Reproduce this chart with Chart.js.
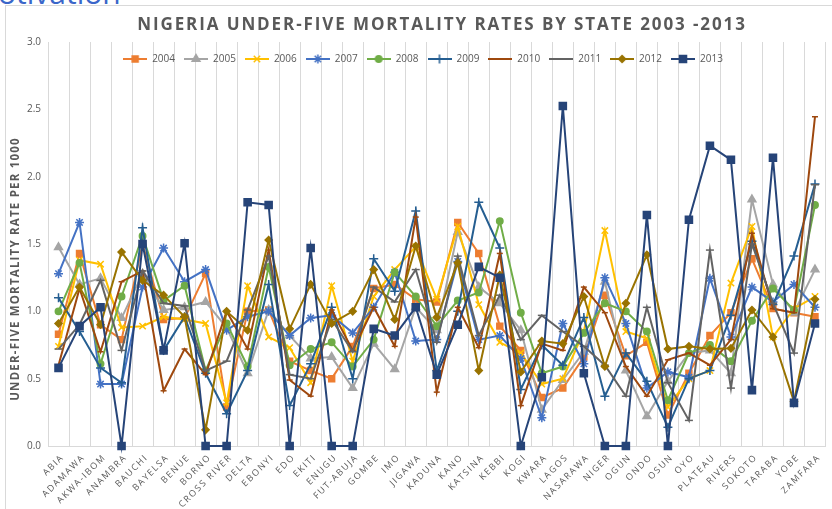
<!DOCTYPE html>
<html>
<head>
<meta charset="utf-8">
<script src="https://cdn.jsdelivr.net/npm/chart.js@4.4.1/dist/chart.umd.min.js"></script>
<style>
  html, body { margin: 0; padding: 0; background: #fff; overflow: hidden; }
  #slideTitle {
    position: absolute; left: -29px; top: -22px;
    font: 30px/30px 'Open Sans', sans-serif; color: #3a66c9; white-space: nowrap;
  }
  #frame {
    position: absolute; left: 5px; top: 5px; width: 840px; height: 520px;
    border: 1px solid #d9d9d9;
  }
  #wrap { position: absolute; left: 0; top: 0; width: 832px; height: 509px; }
</style>
</head>
<body>
<div id="slideTitle">Motivation</div>
<div id="frame"></div>
<div id="wrap"><canvas id="chart" width="832" height="509"></canvas></div>
<script>
// data
const states = ['ABIA', 'ADAMAWA', 'AKWA-IBOM', 'ANAMBRA', 'BAUCHI', 'BAYELSA', 'BENUE', 'BORNO',
  'CROSS RIVER', 'DELTA', 'EBONYI', 'EDO', 'EKITI', 'ENUGU', 'FUT-ABUJA', 'GOMBE', 'IMO', 'JIGAWA',
  'KADUNA', 'KANO', 'KATSINA', 'KEBBI', 'KOGI', 'KWARA', 'LAGOS', 'NASARAWA', 'NIGER', 'OGUN',
  'ONDO', 'OSUN', 'OYO', 'PLATEAU', 'RIVERS', 'SOKOTO', 'TARABA', 'YOBE', 'ZAMFARA'];

const years = ['2004', '2005', '2006', '2007', '2008', '2009', '2010', '2011', '2012', '2013'];

const r2004 = [0.83,1.43,0.90,0.79,1.50,0.94,0.95,1.28,0.29,1.00,1.01,0.63,0.56,0.50,0.74,1.17,1.20,1.09,1.07,1.66,1.43,0.89,0.71,0.36,0.43,0.66,1.12,0.67,0.77,0.23,0.54,0.82,0.99,1.39,1.02,0.99,0.96];
const r2005 = [1.475,1.20,1.245,0.95,1.28,1.01,1.03,1.07,0.88,0.54,1.01,0.82,0.65,0.66,0.43,0.76,0.57,1.03,0.86,1.59,1.18,1.06,0.86,0.27,0.49,0.70,1.22,0.56,0.22,0.48,0.69,0.71,0.54,1.83,1.20,0.99,1.31];
const r2006 = [0.74,1.38,1.35,0.88,0.89,0.96,0.94,0.91,0.32,1.19,0.81,0.73,0.47,1.19,0.63,1.11,1.31,1.48,1.09,1.63,1.05,0.77,0.69,0.46,0.50,0.85,1.60,0.85,0.80,0.29,0.50,0.56,1.21,1.63,0.81,1.02,1.11];
const r2007 = [1.28,1.66,0.46,0.46,1.18,1.47,1.22,1.31,0.86,0.96,1.00,0.82,0.95,0.97,0.84,1.03,1.29,0.78,0.79,1.37,0.79,0.82,0.65,0.21,0.91,0.61,1.25,0.91,0.43,0.55,0.51,1.245,0.81,1.18,1.07,1.20,1.03];
const r2008 = [1.00,1.36,0.61,1.11,1.56,1.08,1.19,0.56,0.91,0.59,1.33,0.60,0.72,0.77,0.59,0.79,1.29,1.11,0.89,1.08,1.14,1.67,0.99,0.54,0.59,0.84,1.06,1.00,0.85,0.34,0.69,0.75,0.63,0.93,1.17,1.01,1.79];
const r2009 = [1.10,0.85,0.58,0.47,1.62,0.71,0.96,0.54,0.24,0.56,1.20,0.30,0.61,1.03,0.50,1.39,1.15,1.745,0.56,1.00,1.81,1.47,0.42,0.75,0.60,0.955,0.37,0.69,0.48,0.14,0.50,0.56,0.97,1.52,1.05,1.41,1.945];
const r2010 = [0.60,1.17,0.70,1.22,1.30,0.41,0.72,0.53,1.00,0.72,1.455,0.49,0.37,1.01,0.71,1.03,0.74,1.70,0.40,1.03,0.73,1.43,0.30,0.76,0.71,1.18,0.99,0.59,0.37,0.64,0.69,0.60,0.79,1.58,1.02,0.99,2.445];
const r2011 = [0.72,0.90,1.23,0.71,1.30,1.06,1.04,0.56,0.63,1.01,1.41,0.53,0.50,0.94,0.70,1.18,1.07,1.31,0.77,1.41,0.82,1.12,0.79,0.97,0.85,0.74,0.60,0.37,1.03,0.47,0.19,1.455,0.43,1.50,1.06,0.69,1.94];
const r2012 = [0.91,1.18,0.90,1.44,1.23,1.12,0.96,0.12,1.00,0.86,1.53,0.87,1.20,0.91,1.00,1.31,0.94,1.485,0.955,1.36,0.56,1.27,0.55,0.78,0.76,1.11,0.59,1.06,1.42,0.72,0.74,0.72,0.725,1.01,0.81,0.33,1.09];
const r2013 = [0.58,0.89,1.03,0,1.50,0.71,1.505,0,0,1.81,1.79,0,1.47,0,0,0.87,0.82,1.03,0.53,0.90,1.33,1.25,0,0.51,2.525,0.54,0,0,1.715,0,1.68,2.23,2.125,0.415,2.14,0.32,0.91];

const series = [r2004, r2005, r2006, r2007, r2008, r2009, r2010, r2011, r2012, r2013];

const colors  = ['#ed7d31', '#a5a5a5', '#ffc000', '#4472c4', '#70ad47', '#255e91', '#9e480e', '#636363', '#997300', '#264478'];
const markers = ['rect', 'triangle', 'crossRot', 'star', 'circle', 'cross', 'line', 'line', 'rectRot', 'rect'];
const radii   = [4.2, 4.5, 4.5, 4.5, 3.2, 4.5, 3, 4, 3.5, 5];

const TEXT = '#595959';
const FONT = "'Open Sans', sans-serif";

// small line+marker swatch for the legend
function swatch(i) {
  const c = document.createElement('canvas');
  c.width = 24; c.height = 12;
  const ctx = c.getContext('2d');
  ctx.strokeStyle = colors[i];
  ctx.lineWidth = 2;
  ctx.beginPath(); ctx.moveTo(0, 6); ctx.lineTo(24, 6); ctx.stroke();
  ctx.fillStyle = colors[i];
  ctx.lineWidth = 1.5;
  Chart.helpers.drawPoint(ctx, { pointStyle: markers[i], radius: radii[i], rotation: 0, borderWidth: 1.5 }, 12, 6);
  return c;
}

const datasets = years.map((y, i) => ({
  label: y,
  data: series[i],
  borderColor: colors[i],
  backgroundColor: colors[i],
  borderWidth: 2,
  pointStyle: markers[i],
  pointRadius: radii[i],
  pointBorderWidth: 1.5,
  pointBackgroundColor: colors[i],
  pointBorderColor: colors[i],
  tension: 0,
  clip: false,
  order: years.length - i,
}));

// legend sits inside the plot, like the spreadsheet chart
const legendMover = {
  id: 'legendMover',
  afterLayout(chart) {
    const lg = chart.legend;
    const h = lg.bottom - lg.top;
    lg.top = 45; lg.bottom = 45 + h;
    lg.left += 1; lg.right += 1;
  },
};

const textPlugin = {
  id: 'texts',
  afterDraw(chart) {
    const ctx = chart.ctx;
    const area = chart.chartArea;
    ctx.save();
    ctx.fillStyle = TEXT;

    // chart title
    ctx.font = 'bold 17px ' + FONT;
    ctx.letterSpacing = '1.9px';
    ctx.textAlign = 'center';
    ctx.textBaseline = 'middle';
    ctx.fillText('NIGERIA UNDER-FIVE MORTALITY RATES BY STATE 2003 -2013', 442, 25);

    // y axis title
    ctx.save();
    ctx.translate(16, 269);
    ctx.rotate(-Math.PI / 2);
    ctx.font = 'bold 11.5px ' + FONT;
    ctx.letterSpacing = '1.2px';
    ctx.fillText('UNDER-FIVE MORTALITY RATE PER 1000', 0, 0);
    ctx.restore();

    // category labels, rotated 45 degrees
    const xs = chart.scales.x;
    ctx.font = '9px ' + FONT;
    ctx.letterSpacing = '1.5px';
    ctx.textAlign = 'right';
    ctx.textBaseline = 'middle';
    states.forEach((s, i) => {
      const px = xs.getPixelForTick(i);
      ctx.save();
      ctx.translate(px + 4, area.bottom + 10);
      ctx.rotate(-Math.PI / 4);
      ctx.fillText(s, 0, 0);
      ctx.restore();
    });
    ctx.restore();
  },
};

new Chart(document.getElementById('chart'), {
  type: 'line',
  data: { labels: states, datasets },
  options: {
    responsive: false,
    animation: false,
    layout: { padding: { top: 13, left: 18, right: 6, bottom: 0 } },
    plugins: {
      title: { display: false },
      tooltip: { enabled: false },
      legend: {
        position: 'top',
        labels: {
          color: TEXT,
          font: { family: FONT, size: 10 },
          usePointStyle: true,
          pointStyleWidth: 24,
          padding: 9,
          generateLabels: () => years.map((y, i) => ({
            text: y,
            pointStyle: swatch(i),
            fillStyle: colors[i],
            strokeStyle: colors[i],
            lineWidth: 0,
            hidden: false,
            datasetIndex: i,
            fontColor: TEXT,
          })),
        },
      },
    },
    scales: {
      x: {
        offset: true,
        grid: { offset: true, color: '#d9d9d9', lineWidth: 1, drawTicks: false },
        border: { color: '#d9d9d9' },
        ticks: { display: false },
        afterFit: s => { s.height = 63; },
      },
      y: {
        min: 0,
        max: 3,
        grid: { display: false, drawTicks: false },
        border: { display: false },
        ticks: {
          stepSize: 0.5,
          padding: 7,
          color: TEXT,
          font: { family: FONT, size: 10 },
          callback: v => v.toFixed(1),
        },
        afterFit: s => { s.width = 30; },
      },
    },
  },
  plugins: [legendMover, textPlugin],
});
</script>
</body>
</html>
